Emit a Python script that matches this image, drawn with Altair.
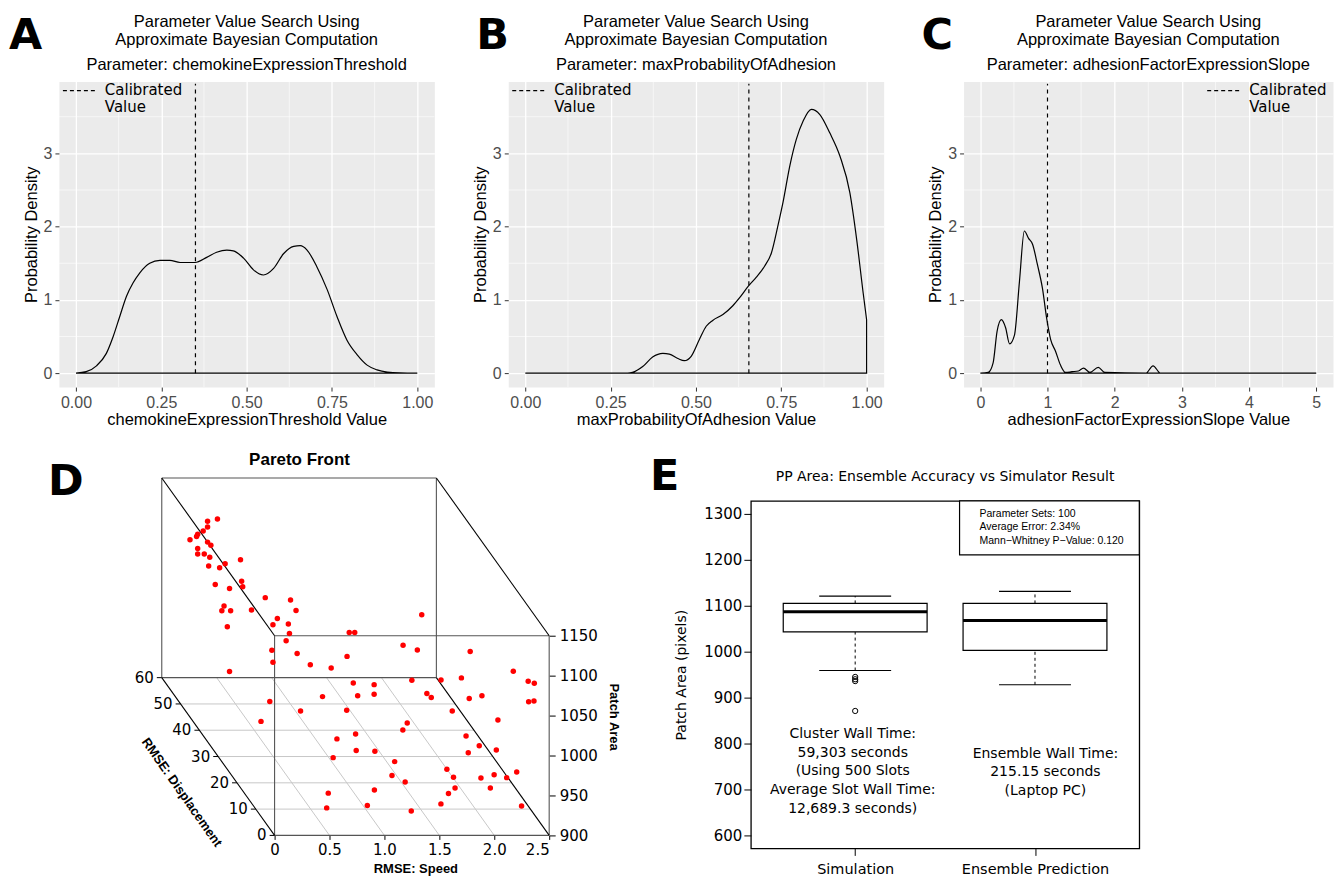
import altair as alt
import pandas as pd

GG = 'Liberation Sans'
DV = 'DejaVu Sans'

# ---------------- A-C: ABC posterior densities ----------------
PARAMS = ['chemokineExpressionThreshold', 'maxProbabilityOfAdhesion', 'adhesionFactorExpressionSlope']
CALIBRATED = [0.35, 0.655, 1.0]
CALIB_TOP = 3.95
DENS_TITLE = ['Parameter Value Search Using', 'Approximate Bayesian Computation']

A_X = [0.0, 0.03, 0.06, 0.089, 0.109, 0.128, 0.148, 0.167, 0.187, 0.216, 0.246, 0.275, 0.305,
       0.349, 0.383, 0.412, 0.442, 0.461, 0.491, 0.52, 0.549, 0.579, 0.608, 0.638, 0.657, 0.677,
       0.706, 0.736, 0.765, 0.794, 0.824, 0.853, 0.882, 0.912, 0.95, 1.0]
A_Y = [0.0, 0.02, 0.1, 0.27, 0.5, 0.77, 1.05, 1.23, 1.37, 1.5, 1.54, 1.54, 1.51,
       1.51, 1.58, 1.65, 1.68, 1.67, 1.57, 1.41, 1.34, 1.43, 1.63, 1.73, 1.74, 1.68,
       1.45, 1.14, 0.77, 0.45, 0.25, 0.11, 0.045, 0.014, 0.003, 0.0]

B_X = [0.0, 0.3, 0.314, 0.344, 0.373, 0.403, 0.422, 0.447, 0.466, 0.486, 0.51, 0.53, 0.549,
       0.579, 0.608, 0.628, 0.654, 0.677, 0.701, 0.721, 0.74, 0.755, 0.775, 0.794, 0.814,
       0.838, 0.863, 0.892, 0.922, 0.951, 0.971, 0.99, 1.0]
B_Y = [0.0, 0.0, 0.01, 0.09, 0.22, 0.27, 0.26, 0.2, 0.17, 0.23, 0.46, 0.64, 0.72,
       0.8, 0.92, 1.03, 1.19, 1.31, 1.46, 1.64, 2.01, 2.33, 2.83, 3.19, 3.44,
       3.6, 3.53, 3.28, 2.96, 2.46, 1.82, 1.09, 0.73]

C_X = [0.0, 0.117, 0.19, 0.249, 0.313, 0.376, 0.435, 0.508, 0.582, 0.655, 0.718, 0.777, 0.85,
       0.924, 0.987, 1.046, 1.119, 1.193, 1.266, 1.364, 1.461, 1.535, 1.632, 1.755, 1.852,
       2.463, 2.571, 2.683, 5.0]
C_Y = [0.0, 0.01, 0.14, 0.57, 0.73, 0.62, 0.4, 0.52, 1.25, 1.94, 1.84, 1.76, 1.48,
       1.16, 0.75, 0.46, 0.3, 0.11, 0.01, 0.02, 0.03, 0.07, 0.01, 0.08, 0.01,
       0.0, 0.1, 0.0, 0.0]

DENS_Y_TICKS = [0, 1, 2, 3]
DENS_Y_MINOR = [0.5, 1.5, 2.5, 3.5]
UNIT_TICKS = [0, 0.25, 0.5, 0.75, 1.0]
UNIT_MINOR = [0.125, 0.375, 0.625, 0.875]
SLOPE_TICKS = [0, 1, 2, 3, 4, 5]
SLOPE_MINOR = [0.5, 1.5, 2.5, 3.5, 4.5]

# ---------------- D: Pareto front (3D scatter) ----------------
SPEED = [0.12, 0.18, 0.19, 0.24, 0.28, 0.28, 0.37, 0.19, 0.19, 0.25, 0.28, 0.31, 0.30, 0.29,
         0.39, 0.44, 0.58, 0.35, 0.48, 0.59, 0.60, 0.43, 0.41, 0.49, 0.68, 0.46, 0.48,
         0.60, 0.83, 0.88, 0.71, 0.67, 0.81, 0.82, 0.79, 0.66, 0.67, 0.89, 1.01, 1.20,
         2.11, 1.45, 1.50, 1.94, 2.07, 1.43, 2.38, 2.02, 2.20, 2.30, 2.43, 2.48, 2.45,
         2.45, 2.43, 1.23, 1.42, 1.42, 1.27, 0.95, 1.90, 1.94, 2.20, 2.23, 0.47, 0.39,
         0.75, 1.17, 1.96, 2.29, 1.55, 1.51, 1.08, 0.91, 2.00, 2.12, 1.00, 1.17, 2.02,
         2.19, 0.79, 1.35, 1.74, 1.24, 1.80, 2.05, 2.17, 2.25, 2.29, 1.36, 1.78, 1.72,
         2.05, 1.08, 0.66, 1.60, 0.56, 0.93, 1.33, 2.30]
DISP = [52, 52, 52, 52, 52, 52, 52, 52, 52, 52, 52, 52, 52, 52,
        52, 52, 52, 52, 52, 52, 52, 52, 52, 52, 52, 52, 52,
        40, 40, 40, 40, 40, 40, 40, 40, 40, 40, 40, 40, 40,
        45, 45, 45, 45, 45, 45, 35, 45, 40, 35, 15, 10, 5,
        8, 4, 30, 30, 30, 30, 30, 30, 30, 25, 20, 30, 30,
        30, 30, 20, 15, 20, 20, 20, 20, 15, 15, 15, 15, 15,
        10, 15, 15, 10, 10, 10, 10, 10, 8, 5, 10, 8, 8,
        5, 10, 10, 5, 5, 5, 5, 3]
AREA = [1099, 1103, 1106, 1110, 1122, 1115, 1125, 1088, 1081, 1081, 1096, 1092, 1077, 1066,
        1064, 1069, 1074, 1043, 1038, 1047, 1040, 1016, 1010, 1010, 1011, 990, 934,
        1066, 1063, 1050, 1040, 1032, 1033, 1021, 1012, 1000, 985, 996, 982, 978,
        1028, 1006, 1006, 990, 984, 976, 1015, 946, 963, 982, 1056, 1060, 1074,
        1041, 1055, 992, 990, 978, 976, 975, 979, 974, 989, 1009, 969, 944,
        957, 958, 990, 995, 975, 966, 961, 955, 975, 963, 957, 956, 954,
        974, 948, 943, 950, 942, 940, 939, 943, 946, 963, 934, 933, 926,
        943, 924, 920, 923, 918, 921, 914, 927]

SPEED_LIM = [0, 2.5]
DISP_LIM = [0, 60]
AREA_LIM = [900, 1150]
SPEED_TICKS = [0, 0.5, 1.0, 1.5, 2.0, 2.5]
DISP_TICKS = [0, 10, 20, 30, 40, 50, 60]
AREA_TICKS = [900, 950, 1000, 1050, 1100, 1150]
DEPTH_SPEED = 1.027   # oblique shift (speed units) across the displacement range
DEPTH_AREA = 197.5    # oblique shift (area units) across the displacement range
D_TOP = 1318.75

# ---------------- E: ensemble vs simulator box plot ----------------
BOX_POS = [1, 2]
BOX_NAMES = ['Simulation', 'Ensemble Prediction']
BOX_LO = [959, 928]
BOX_Q1 = [1043, 1003]
BOX_MED = [1087, 1068]
BOX_Q3 = [1105, 1105]
BOX_HI = [1121, 1131]
OUT_POS = [1, 1, 1, 1]
OUT_VAL = [945, 940, 936, 871]
E_TICKS = [600, 700, 800, 900, 1000, 1100, 1200, 1300]
E_TITLE = 'PP Area: Ensemble Accuracy vs Simulator Result'
SIM_NOTE = 'Cluster Wall Time:\n59,303 seconds\n(Using 500 Slots\nAverage Slot Wall Time:\n12,689.3 seconds)'
ENS_NOTE = 'Ensemble Wall Time:\n215.15 seconds\n(Laptop PC)'
STATS_NOTE = 'Parameter Sets: 100\nAverage Error: 2.34%\nMann\u2212Whitney P\u2212Value: 0.120'

ONE = pd.DataFrame({'k': [0]})
NO_FRAME = alt.ViewBackground(stroke='transparent')


def label(text, x, y, font=GG, size=16.5, weight='normal', align='center', baseline='middle', angle=0):
    return alt.Chart(ONE).mark_text(font=font, fontSize=size, fontWeight=weight, align=align,
                                    baseline=baseline, angle=angle, color='black').encode(
        x=alt.value(x), y=alt.value(y), text=alt.value(text))


def tag(letter, dx, dy):
    return label(letter, dx, dy, font=DV, size=43, weight='bold', align='left', baseline='alphabetic')


def density_panel(xs, ys, calib, param, letter, letter_dx, xdom, xticks, xminor, xfmt, width, legend_x):
    xsc = alt.Scale(domain=xdom, nice=False, zero=False)
    ysc = alt.Scale(domain=[-0.19, 3.98], nice=False, zero=False)
    xax = alt.Axis(values=xticks, format=xfmt, title=f'{param} Value', grid=True, gridColor='white',
                   gridWidth=1.3, domain=False, tickSize=4, tickColor='#333333', labelColor='#4D4D4D',
                   labelFont=GG, labelFontSize=16, labelPadding=3, titleFont=GG, titleFontSize=16.5,
                   titleFontWeight='normal', titleColor='black', titlePadding=1)
    yax = alt.Axis(values=DENS_Y_TICKS, format='d', title='Probability Density', grid=True,
                   gridColor='white', gridWidth=1.3, domain=False, tickSize=4, tickColor='#333333',
                   labelColor='#4D4D4D', labelFont=GG, labelFontSize=16, labelPadding=3, titleFont=GG,
                   titleFontSize=16.5, titleFontWeight='normal', titleColor='black', titlePadding=4)

    def X(f):
        return alt.X(f + ':Q', scale=xsc, axis=xax)

    def Y(f):
        return alt.Y(f + ':Q', scale=ysc, axis=yax)

    minor_x = alt.Chart(pd.DataFrame({'x': xminor})).mark_rule(color='white', strokeWidth=0.6).encode(x=X('x'))
    minor_y = alt.Chart(pd.DataFrame({'y': DENS_Y_MINOR})).mark_rule(color='white', strokeWidth=0.6).encode(y=Y('y'))
    curve = alt.Chart(pd.DataFrame({'x': xs, 'y': ys})).mark_area(
        fillOpacity=0, stroke='black', strokeWidth=1.2, interpolate='monotone').encode(x=X('x'), y=Y('y'))
    calib_rule = alt.Chart(pd.DataFrame({'x': [calib], 'y': [0], 'y2': [CALIB_TOP]})).mark_rule(
        color='black', strokeDash=[4, 4], strokeWidth=1.2).encode(x=X('x'), y=Y('y'), y2='y2:Q')
    key = alt.Chart(ONE).mark_rule(color='black', strokeDash=[4, 3], strokeWidth=1.2).encode(
        x=alt.value(legend_x), x2=alt.value(legend_x + 34), y=alt.value(9))
    key_text = alt.Chart(ONE).mark_text(align='left', baseline='top', font=DV, fontSize=15,
                                        lineHeight=18, lineBreak='\n', color='black').encode(
        x=alt.value(legend_x + 42), y=alt.value(1), text=alt.value('Calibrated\nValue'))
    cx = width / 2
    titles = [label(DENS_TITLE[0], cx, -60), label(DENS_TITLE[1], cx, -42), label(f'Parameter: {param}', cx, -17)]
    return alt.layer(minor_x, minor_y, curve, calib_rule, key, key_text, *titles,
                     tag(letter, letter_dx, -33)).properties(
        width=width, height=306, view=alt.ViewBackground(fill='#EBEBEB', stroke='transparent'))


pa = density_panel(A_X, A_Y, CALIBRATED[0], PARAMS[0], 'A', -50, [-0.05, 1.05], UNIT_TICKS, UNIT_MINOR, '.2f', 376, 4)
pb = density_panel(B_X, B_Y, CALIBRATED[1], PARAMS[1], 'B', -32, [-0.05, 1.05], UNIT_TICKS, UNIT_MINOR, '.2f', 376, 4)
pc = density_panel(C_X, C_Y, CALIBRATED[2], PARAMS[2], 'C', -42, [-0.25, 5.25], SLOPE_TICKS, SLOPE_MINOR, 'd', 370, 244)

# ---------------- D ----------------
KX = DEPTH_SPEED / DISP_LIM[1]
KY = DEPTH_AREA / DISP_LIM[1]

dxs = alt.Scale(domain=[SPEED_LIM[0] - DEPTH_SPEED, SPEED_LIM[1]], nice=False, zero=False)
dys = alt.Scale(domain=[AREA_LIM[0], D_TOP], nice=False, zero=False)
dxax = alt.Axis(values=SPEED_TICKS, labelExpr="datum.value == 0 ? '0' : format(datum.value, '.1f')",
                grid=False, domain=False, tickSize=4, tickColor='black', labelFont=DV, labelFontSize=15,
                labelColor='black', labelPadding=3, title='RMSE: Speed', titleFont=GG, titleFontSize=13,
                titleFontWeight='bold', titleColor='black', titleX=254, titleY=37,
                titleBaseline='alphabetic', titleAlign='center')
dyax = alt.Axis(orient='right', values=AREA_TICKS, format='d', grid=False, domain=False, tickSize=6,
                tickColor='black', labelFont=DV, labelFontSize=15, labelColor='black', labelPadding=4,
                title='Patch Area', titleFont=GG, titleFontSize=13, titleFontWeight='bold', titleColor='black',
                titleAngle=90, titleX=64, titleY=216, titleBaseline='middle', titleAlign='center')


def DX(f):
    return alt.X(f + ':Q', scale=dxs, axis=dxax)


def DY(f):
    return alt.Y(f + ':Q', scale=dys, axis=dyax)


edges = []
for d in DISP_LIM:
    for a in AREA_LIM:
        edges.append((SPEED_LIM[0], d, a, SPEED_LIM[1], d, a, 'face'))
for s in SPEED_LIM:
    for d in DISP_LIM:
        edges.append((s, d, AREA_LIM[0], s, d, AREA_LIM[1], 'face'))
for s in SPEED_LIM:
    for a in AREA_LIM:
        edges.append((s, DISP_LIM[0], a, s, DISP_LIM[1], a, 'depth'))
cols = ['s1', 'd1', 'a1', 's2', 'd2', 'a2', 'kind']
edges_df = pd.DataFrame(edges, columns=cols)

grid = [(SPEED_LIM[0], d, AREA_LIM[0], SPEED_LIM[1], d, AREA_LIM[0], 'grid') for d in DISP_TICKS[1:-1]]
grid += [(s, DISP_LIM[0], AREA_LIM[0], s, DISP_LIM[1], AREA_LIM[0], 'grid') for s in SPEED_TICKS[1:-1]]
grid_df = pd.DataFrame(grid, columns=cols)

seg_calc = dict(sx=f'datum.s1 - {KX}*datum.d1', sy=f'datum.a1 + {KY}*datum.d1',
                sx2=f'datum.s2 - {KX}*datum.d2', sy2=f'datum.a2 + {KY}*datum.d2')

floor = alt.Chart(grid_df).transform_calculate(**seg_calc).mark_rule(color='#c8c8c8', strokeWidth=1).encode(
    x=DX('sx'), y=DY('sy'), x2='sx2:Q', y2='sy2:Q')
box = alt.Chart(edges_df).transform_calculate(**seg_calc).mark_rule(strokeWidth=1.1).encode(
    x=DX('sx'), y=DY('sy'), x2='sx2:Q', y2='sy2:Q',
    color=alt.Color('kind:N', scale=alt.Scale(domain=['face', 'depth'], range=['#555555', '#000000']), legend=None))

dtick_base = alt.Chart(pd.DataFrame({'d': DISP_TICKS})).transform_calculate(
    sx=f'{SPEED_LIM[0]} - {KX}*datum.d', sy=f'{AREA_LIM[0]} + {KY}*datum.d',
    sx2=f'{SPEED_LIM[0]} - {KX}*datum.d - 0.045')
dticks = dtick_base.mark_rule(color='black', strokeWidth=1).encode(x=DX('sx'), x2='sx2:Q', y=DY('sy'))
dlabels = dtick_base.mark_text(align='right', baseline='middle', dx=-8, font=DV, fontSize=15, color='black').encode(
    x=DX('sx'), y=DY('sy'), text='d:Q')

pts = alt.Chart(pd.DataFrame({'speed': SPEED, 'disp': DISP, 'area': AREA})).transform_calculate(
    sx=f'datum.speed - {KX}*datum.disp', sy=f'datum.area + {KY}*datum.disp').mark_circle(
    color='#FF0000', size=30, opacity=1).encode(x=DX('sx'), y=DY('sy'))

disp_title = label('RMSE: Displacement', 20, 292, size=13, weight='bold', angle=55)
pareto_title = label('Pareto Front', 138, -36, size=17, weight='bold', baseline='alphabetic')

pd_chart = alt.layer(floor, box, dticks, dlabels, pts, disp_title, pareto_title).properties(
    width=388, height=335, view=NO_FRAME)

d_tag = tag('D', -11, -6).properties(width=45, height=20, view=NO_FRAME)

# ---------------- E ----------------
exs = alt.Scale(domain=[0.42, 2.58], nice=False, zero=False)
eys = alt.Scale(domain=[572, 1328], nice=False, zero=False)
label_expr = f"datum.value == {BOX_POS[0]} ? '{BOX_NAMES[0]}' : '{BOX_NAMES[1]}'"
exax = alt.Axis(values=BOX_POS, labelExpr=label_expr, title=None, grid=False, domain=False, tickSize=7,
                tickColor='black', labelFont=DV, labelFontSize=14.5, labelColor='black', labelPadding=7)
eyax = alt.Axis(values=E_TICKS, format='d', title='Patch Area (pixels)', grid=False, domain=False,
                tickSize=7, tickColor='black', labelFont=DV, labelFontSize=15, labelColor='black',
                labelPadding=2, titleFont=DV, titleFontSize=14, titleFontWeight='normal',
                titleColor='black', titlePadding=15)


def EX(f):
    return alt.X(f + ':Q', scale=exs, axis=exax)


def EY(f):
    return alt.Y(f + ':Q', scale=eys, axis=eyax)


bx = alt.Chart(pd.DataFrame({'pos': BOX_POS, 'lo': BOX_LO, 'q1': BOX_Q1, 'med': BOX_MED,
                             'q3': BOX_Q3, 'hi': BOX_HI})).transform_calculate(
    xl='datum.pos - 0.4', xr='datum.pos + 0.4', cl='datum.pos - 0.2', cr='datum.pos + 0.2')

w_up = bx.mark_rule(color='black', strokeDash=[3, 3], strokeWidth=1).encode(x=EX('pos'), y=EY('q3'), y2='hi:Q')
w_lo = bx.mark_rule(color='black', strokeDash=[3, 3], strokeWidth=1).encode(x=EX('pos'), y=EY('lo'), y2='q1:Q')
cap_up = bx.mark_rule(color='black', strokeWidth=1.2).encode(x=EX('cl'), x2='cr:Q', y=EY('hi'))
cap_lo = bx.mark_rule(color='black', strokeWidth=1.2).encode(x=EX('cl'), x2='cr:Q', y=EY('lo'))
boxes = bx.mark_rect(fill='white', stroke='black', strokeWidth=1.2).encode(
    x=EX('xl'), x2='xr:Q', y=EY('q1'), y2='q3:Q')
medians = bx.mark_rule(color='black', strokeWidth=3).encode(x=EX('xl'), x2='xr:Q', y=EY('med'))
outliers = alt.Chart(pd.DataFrame({'pos': OUT_POS, 'val': OUT_VAL})).mark_point(
    shape='circle', filled=False, color='black', size=28, strokeWidth=1, opacity=1).encode(
    x=EX('pos'), y=EY('val'))

stats_box = alt.Chart(ONE).mark_rect(fill='white', stroke='black', strokeWidth=1.2).encode(
    x=alt.value(209), x2=alt.value(389), y=alt.value(0), y2=alt.value(54))
stats_text = alt.Chart(ONE).mark_text(align='left', baseline='top', font=GG, fontSize=10.5, lineHeight=13.5,
                                      lineBreak='\n', color='black').encode(
    x=alt.value(229), y=alt.value(8), text=alt.value(STATS_NOTE))
sim_text = alt.Chart(ONE).mark_text(align='center', baseline='top', font=DV, fontSize=14, lineHeight=19,
                                    lineBreak='\n', color='black').encode(
    x=alt.value(102), y=alt.value(226), text=alt.value(SIM_NOTE))
ens_text = alt.Chart(ONE).mark_text(align='center', baseline='top', font=DV, fontSize=14, lineHeight=19,
                                    lineBreak='\n', color='black').encode(
    x=alt.value(295), y=alt.value(246), text=alt.value(ENS_NOTE))
e_title = label(E_TITLE, 194.5, -24, font=DV, size=14)

pe_chart = alt.layer(w_up, w_lo, cap_up, cap_lo, boxes, medians, outliers, stats_box, stats_text,
                     sim_text, ens_text, e_title, tag('E', -101, -11)).properties(
    width=389, height=348, view=alt.ViewBackground(stroke='black', strokeWidth=1.3))

row1 = alt.hconcat(pa, pb, pc, spacing=36)
row2 = alt.hconcat(d_tag, pd_chart, pe_chart, spacing=29)

chart = alt.vconcat(row1, row2, spacing=22).properties(
    padding={'top': 4, 'left': 0, 'right': 0, 'bottom': 0}).configure_view(stroke='transparent').configure(
    background='white')

chart.save('out.html', embed_options={'renderer': 'svg', 'actions': False})
